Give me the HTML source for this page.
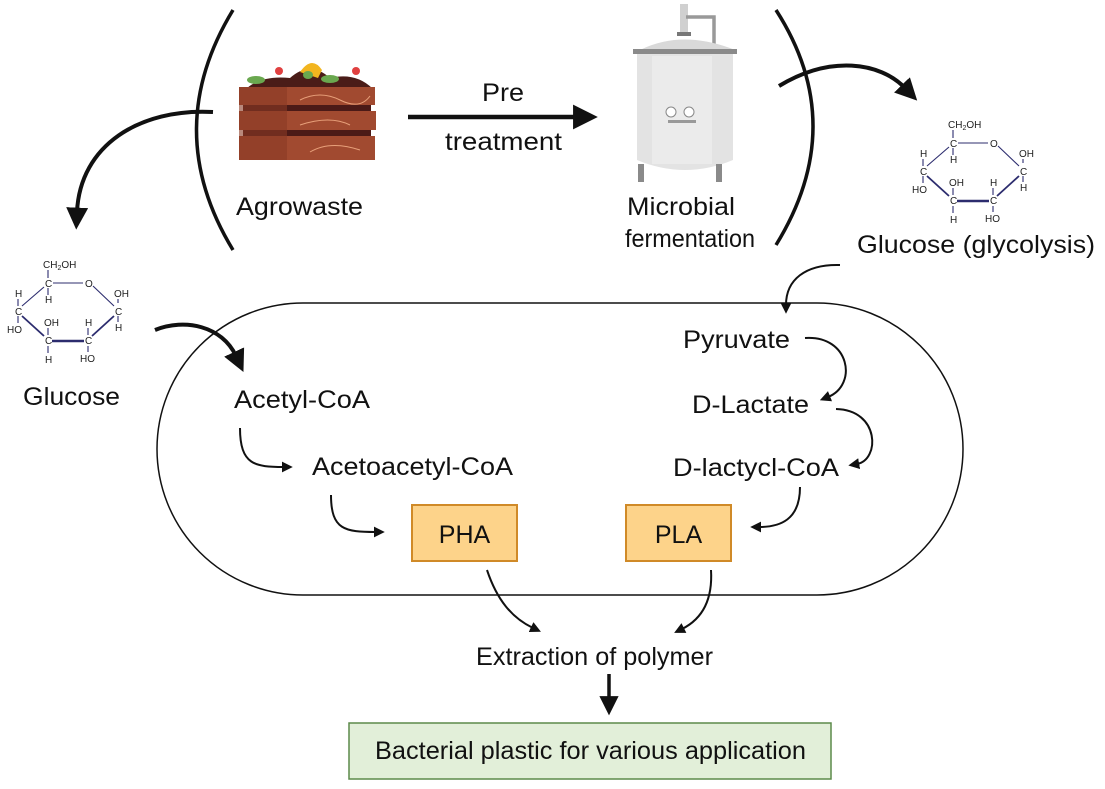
<!DOCTYPE html>
<html><head><meta charset="utf-8"><style>
html,body{margin:0;padding:0;background:#fff;}
svg{display:block;font-family:"Liberation Sans",Arial,sans-serif;}
</style></head><body>
<svg width="1105" height="789" viewBox="0 0 1105 789" xmlns="http://www.w3.org/2000/svg">
<defs>
<marker id="ah" viewBox="0 0 10 10" refX="2" refY="5" markerWidth="5.5" markerHeight="5.5" orient="auto"><path d="M0,0 L10,5 L0,10 z" fill="#111"/></marker>
<marker id="as" viewBox="0 0 10 10" refX="2" refY="5" markerWidth="5.5" markerHeight="5.5" orient="auto"><path d="M0,0 L10,5 L0,10 z" fill="#111"/></marker>
<g id="glu" font-size="10" fill="#222">
  <g stroke="#2c2c6e" stroke-width="1.1" fill="none">
    <line x1="48" y1="270" x2="48" y2="278"/>
    <line x1="53" y1="283" x2="83" y2="283"/>
    <line x1="93" y1="286" x2="114" y2="306"/>
    <line x1="44" y1="287" x2="22" y2="306"/>
    <line x1="22" y1="316" x2="44" y2="336" stroke-width="1.8"/>
    <line x1="52" y1="341" x2="84" y2="341" stroke-width="2.5"/>
    <line x1="92" y1="336" x2="114" y2="316" stroke-width="1.8"/>
    <line x1="48" y1="288" x2="48" y2="295"/>
    <line x1="118" y1="303" x2="118" y2="299"/>
    <line x1="118" y1="316" x2="118" y2="322"/>
    <line x1="88" y1="335" x2="88" y2="328"/>
    <line x1="88" y1="346" x2="88" y2="352"/>
    <line x1="48" y1="335" x2="48" y2="328"/>
    <line x1="48" y1="346" x2="48" y2="353"/>
    <line x1="18" y1="306" x2="18" y2="299"/>
    <line x1="18" y1="316" x2="18" y2="323"/>
  </g>
  <text x="43" y="268">CH<tspan font-size="7" dy="2">2</tspan><tspan dy="-2">OH</tspan></text>
  <text x="45" y="287">C</text><text x="85" y="287">O</text>
  <text x="115" y="315">C</text><text x="114" y="297">OH</text><text x="115" y="331">H</text>
  <text x="85" y="344">C</text><text x="85" y="326">H</text><text x="80" y="362">HO</text>
  <text x="45" y="344">C</text><text x="44" y="326">OH</text><text x="45" y="363">H</text>
  <text x="15" y="315">C</text><text x="15" y="297">H</text><text x="7" y="333">HO</text>
  <text x="45" y="303">H</text>
</g>
</defs>

<rect x="157" y="303" width="806" height="292" rx="146" ry="146" fill="none" stroke="#111" stroke-width="1.5"/>

<path d="M233,10 Q160,130 233,250" fill="none" stroke="#111" stroke-width="3.5"/>
<path d="M776,10 Q850,125 776,245" fill="none" stroke="#111" stroke-width="3.5"/>

<g>
  <path d="M245,90 Q260,75 290,78 Q310,60 330,78 Q355,72 372,88 Z" fill="#4a1c18"/>
  <path d="M300,72 Q312,55 322,70 L318,78 Z" fill="#f2b51f"/>
  <ellipse cx="256" cy="80" rx="9" ry="4" fill="#6aa84f"/>
  <ellipse cx="308" cy="75" rx="5" ry="4" fill="#6aa84f"/>
  <ellipse cx="330" cy="79" rx="9" ry="4" fill="#6aa84f"/>
  <circle cx="279" cy="71" r="4" fill="#e04040"/>
  <circle cx="356" cy="71" r="4" fill="#e04040"/>
  <rect x="239" y="87" width="136" height="18" fill="#a14a30"/>
  <rect x="243" y="105" width="128" height="6" fill="#4b1a17"/>
  <rect x="239" y="111" width="137" height="19" fill="#a14a30"/>
  <rect x="243" y="130" width="128" height="6" fill="#4b1a17"/>
  <rect x="239" y="136" width="136" height="24" fill="#a14a30"/>
  <rect x="239" y="87" width="48" height="73" fill="#8b3a24" opacity="0.6"/>
  <path d="M300,100 Q320,90 340,100 T370,96 M300,125 Q330,115 350,125 M310,152 Q330,140 360,150" stroke="#e8a07a" fill="none" stroke-width="1"/>
</g>

<g font-size="25" fill="#111" lengthAdjust="spacingAndGlyphs">
<text x="236" y="215" textLength="127" lengthAdjust="spacingAndGlyphs">Agrowaste</text>
<text x="482" y="101" textLength="42" lengthAdjust="spacingAndGlyphs">Pre</text>
<text x="445" y="150" textLength="117" lengthAdjust="spacingAndGlyphs">treatment</text>
<text x="627" y="215" textLength="108" lengthAdjust="spacingAndGlyphs">Microbial</text>
<text x="625" y="247" textLength="130" lengthAdjust="spacingAndGlyphs">fermentation</text>
<text x="23" y="405" textLength="97" lengthAdjust="spacingAndGlyphs">Glucose</text>
<text x="857" y="253" textLength="238" lengthAdjust="spacingAndGlyphs">Glucose (glycolysis)</text>
<text x="234" y="408" textLength="136" lengthAdjust="spacingAndGlyphs">Acetyl-CoA</text>
<text x="312" y="475" textLength="201" lengthAdjust="spacingAndGlyphs">Acetoacetyl-CoA</text>
<text x="683" y="348" textLength="107" lengthAdjust="spacingAndGlyphs">Pyruvate</text>
<text x="692" y="413" textLength="117" lengthAdjust="spacingAndGlyphs">D-Lactate</text>
<text x="673" y="476" textLength="166" lengthAdjust="spacingAndGlyphs">D-lactycl-CoA</text>
<text x="476" y="665" textLength="237" lengthAdjust="spacingAndGlyphs">Extraction of polymer</text>
</g>

<line x1="408" y1="117" x2="578" y2="117" stroke="#111" stroke-width="4.5" marker-end="url(#as)"/>

<g>
  <rect x="680" y="4" width="8" height="30" fill="#d0d0d0"/>
  <path d="M686,17 L714,17 L714,150" stroke="#999" stroke-width="3.5" fill="none"/>
  <rect x="677" y="32" width="14" height="4" fill="#777"/>
  <path d="M640,50 Q680,30 730,48 L735,50 L640,50 Z" fill="#d9d9d9"/>
  <rect x="633" y="49" width="104" height="5" fill="#8a8a8a"/>
  <path d="M637,54 L733,54 L733,160 Q685,180 637,160 Z" fill="#e3e3e3"/>
  <rect x="652" y="56" width="60" height="108" fill="#ebebeb"/>
  <circle cx="671" cy="112" r="5" fill="#fff" stroke="#888"/>
  <circle cx="689" cy="112" r="5" fill="#fff" stroke="#888"/>
  <rect x="668" y="120" width="28" height="3" fill="#999"/>
  <rect x="638" y="164" width="6" height="18" fill="#8a8a8a"/>
  <rect x="716" y="164" width="6" height="18" fill="#8a8a8a"/>
</g>

<path d="M213,112 C140,108 80,145 77,212" fill="none" stroke="#111" stroke-width="4" marker-end="url(#as)"/>
<path d="M779,86 C830,55 880,62 905,88" fill="none" stroke="#111" stroke-width="4" marker-end="url(#as)"/>

<use href="#glu"/>
<use href="#glu" transform="translate(905,-140)"/>

<path d="M155,330 C185,318 222,326 236,356" fill="none" stroke="#111" stroke-width="4" marker-end="url(#as)"/>
<path d="M840,265 C805,264 786,280 786,305" fill="none" stroke="#111" stroke-width="2" marker-end="url(#as)"/>

<g fill="none" stroke="#111" stroke-width="2">
<path d="M240,428 C240,465 255,467 284,467" marker-end="url(#ah)"/>
<path d="M331,495 C331,530 345,532 376,532" marker-end="url(#ah)"/>
<path d="M805,338 C850,335 858,385 828,397" marker-end="url(#ah)"/>
<path d="M836,409 C880,410 880,460 857,464" marker-end="url(#ah)"/>
<path d="M800,487 C800,520 780,527 759,527" marker-end="url(#ah)"/>
<path d="M487,570 C497,600 512,618 533,628" marker-end="url(#ah)"/>
<path d="M711,570 C713,603 700,620 682,629" marker-end="url(#ah)"/>
</g>

<rect x="412" y="505" width="105" height="56" fill="#fdd38a" stroke="#d08a28" stroke-width="2"/>
<text x="464.5" y="543" font-size="25" text-anchor="middle" fill="#111">PHA</text>
<rect x="626" y="505" width="105" height="56" fill="#fdd38a" stroke="#d08a28" stroke-width="2"/>
<text x="678.5" y="543" font-size="25" text-anchor="middle" fill="#111">PLA</text>

<line x1="609" y1="674" x2="609" y2="700" stroke="#111" stroke-width="3.5" marker-end="url(#as)"/>

<rect x="349" y="723" width="482" height="56" fill="#e2efd9" stroke="#5c8a4a" stroke-width="1.5"/>
<text x="375" y="759" font-size="25" fill="#111" textLength="431" lengthAdjust="spacingAndGlyphs">Bacterial plastic for various application</text>
</svg>
</body></html>
